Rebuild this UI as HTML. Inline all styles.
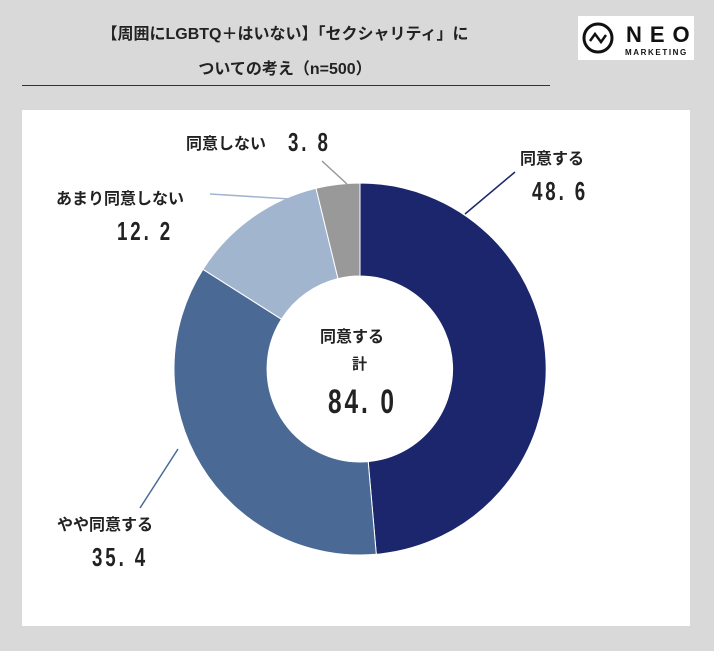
<!DOCTYPE html>
<html><head><meta charset="utf-8"><style>
body{margin:0;width:714px;height:651px;background:#d9d9d9;position:relative;overflow:hidden;font-family:"Liberation Sans","Noto Sans CJK JP",sans-serif;}
.t{position:absolute;font-weight:bold;color:#222;white-space:nowrap}
.n{position:absolute;font-weight:bold;color:#222;font-size:25px;transform:scaleX(0.72);transform-origin:left top;letter-spacing:4px;white-space:nowrap}
</style></head><body>
<div class="t" style="left:0;width:570px;text-align:center;top:20px;font-size:16px">【周囲にLGBTQ＋はいない】「セクシャリティ」に</div>
<div class="t" style="left:0;width:570px;text-align:center;top:55px;font-size:16px">ついての考え（n=500）</div>
<div style="position:absolute;left:22px;top:85px;width:528px;height:1px;background:#333"></div>
<div style="position:absolute;left:578px;top:16px;width:116px;height:44px;background:#fff"></div>
<svg style="position:absolute;left:578px;top:16px" width="116" height="44">
<circle cx="20" cy="22" r="14" fill="none" stroke="#111" stroke-width="3"/>
<polyline points="12,25 17,18 23,26 28,19" fill="none" stroke="#111" stroke-width="2.5"/>
<text x="48" y="26" font-family="Liberation Sans" font-weight="bold" font-size="22" letter-spacing="8" fill="#111">NEO</text>
<text x="47" y="39" font-family="Liberation Sans" font-weight="bold" font-size="8" letter-spacing="1.6" fill="#111">MARKETING</text>
</svg>
<div style="position:absolute;left:22px;top:110px;width:668px;height:516px;background:#fff"></div>
<svg style="position:absolute;left:0;top:0" width="714" height="651">
<g stroke="#fff" stroke-width="1">
<path d="M360 183 A186 186 0 0 1 376.3 554.3 L368.2 461.6 A93 93 0 0 0 360 276 Z" fill="#1b266c"/>
<path d="M376.3 554.3 A186 186 0 0 1 202.96 269.3 L281.5 319.2 A93 93 0 0 0 368.2 461.6 Z" fill="#4a6a95"/>
<path d="M202.96 269.3 A186 186 0 0 1 316 188.3 L338 278.6 A93 93 0 0 0 281.5 319.2 Z" fill="#a2b5cf"/>
<path d="M316 188.3 A186 186 0 0 1 360 183 L360 276 A93 93 0 0 0 338 278.6 Z" fill="#999"/>
</g>
<line x1="465" y1="214" x2="515" y2="172" stroke="#1b266c" stroke-width="1.5"/>
<line x1="322" y1="161" x2="347" y2="184" stroke="#999" stroke-width="1.5"/>
<line x1="210" y1="194" x2="290" y2="199" stroke="#a2b5cf" stroke-width="1.5"/>
<line x1="178" y1="449" x2="140" y2="508" stroke="#4a6a95" stroke-width="1.5"/>
</svg>
<div class="t" style="left:186px;top:130px;font-size:16px">同意しない</div>
<div class="n" style="left:288px;top:127px;font-size:26px">3. 8</div>
<div class="t" style="left:520px;top:145px;font-size:16px">同意する</div>
<div class="n" style="left:532px;top:176px;font-size:26px">48. 6</div>
<div class="t" style="left:56px;top:185px;font-size:16px">あまり同意しない</div>
<div class="n" style="left:117px;top:216px;font-size:26px">12. 2</div>
<div class="t" style="left:57px;top:511px;font-size:16px">やや同意する</div>
<div class="n" style="left:92px;top:542px;font-size:26px">35. 4</div>
<div class="t" style="left:320px;top:323px;font-size:16px">同意する</div>
<div class="t" style="left:352px;top:353px;font-size:15px">計</div>
<div class="n" style="left:328px;top:383px;font-size:34px">84. 0</div>
</body></html>
